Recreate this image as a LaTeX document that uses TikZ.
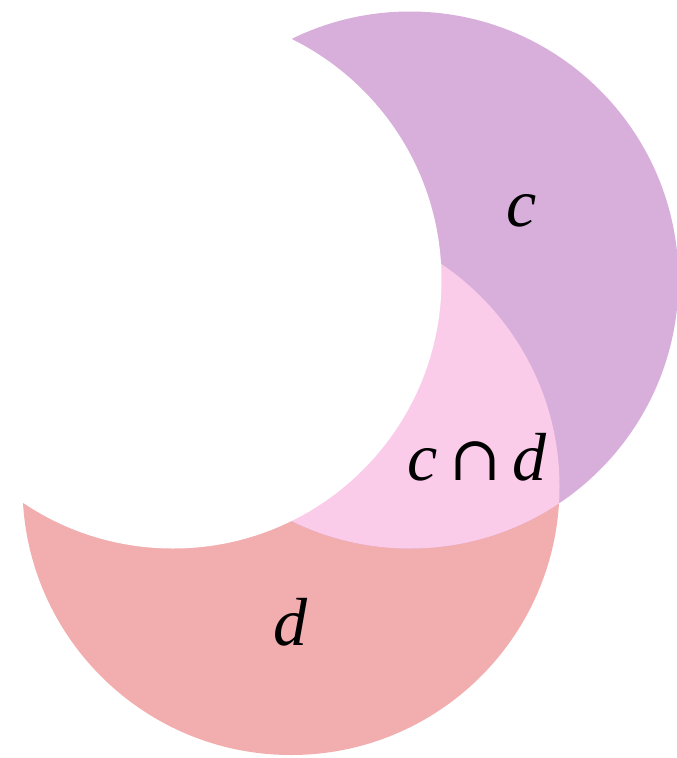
\documentclass[tikz,border=0pt]{standalone}
\usepackage{fontspec}
\setmainfont{Liberation Serif}
\newfontfamily\capfont{DejaVu Serif}
\begin{document}
\begin{tikzpicture}[x=1pt,y=-1pt,
  lbl/.style={inner sep=0pt,font=\fontsize{68}{80}\selectfont}]
\definecolor{cset}{RGB}{216,174,219}
\definecolor{dset}{RGB}{242,173,175}
\definecolor{cdset}{RGB}{251,203,234}
\useasboundingbox (0,0) rectangle (677,758);
\def\R{268.5}
\coordinate (cc) at (410,280);
\coordinate (dc) at (291,486.5);
\coordinate (wc) at (173,280);
\fill[dset] (dc) circle (\R);
\fill[cset] (cc) circle (\R);
\begin{scope}
  \clip (cc) circle (\R);
  \fill[cdset] (dc) circle (\R);
\end{scope}
\fill[white] (wc) circle (\R);
\node[lbl] (lc) at (522,211) {\itshape c};
\node[lbl] (lcd) at (477,457) {\itshape c\,{\capfont\upshape\fontsize{62}{70}\selectfont ∩}\,\itshape d};
\node[lbl] (ld) at (290,622) {\itshape d};
\end{tikzpicture}
\end{document}
